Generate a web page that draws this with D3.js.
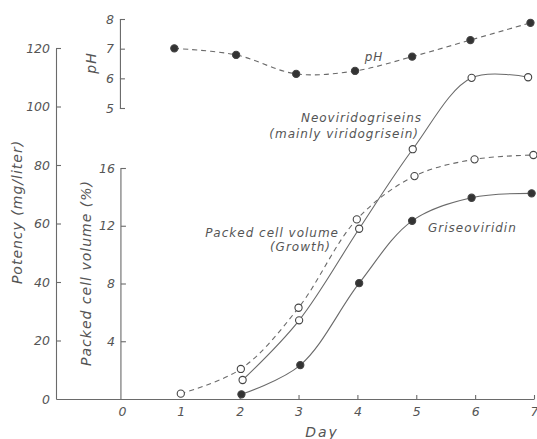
<!DOCTYPE html>
<html>
<head>
<meta charset="utf-8">
<script src="https://cdn.jsdelivr.net/npm/d3@7"></script>
<style>
  html, body { margin: 0; padding: 0; background: #fff; }
  svg { display: block; }
  text { font-family: "DejaVu Sans", sans-serif; font-style: italic; fill: #555; }
</style>
</head>
<body>
<svg id="chart" width="537" height="439"></svg>
<script>
// ---- data ----
const dayTicks = [0, 1, 2, 3, 4, 5, 6, 7];
const potencyTicks = [0, 20, 40, 60, 80, 100, 120];
const pcvTicks = [4, 8, 12, 16];
const phTicks = [5, 6, 7, 8];

const phDays = [0.89, 1.94, 2.96, 3.96, 4.93, 5.92, 6.94];
const phValues = [7.01, 6.79, 6.15, 6.25, 6.73, 7.29, 7.87];

const neoDays = [2.05, 3.01, 4.03, 4.94, 5.94, 6.9];
const neoValues = [6.5, 26.9, 58.2, 85.4, 109.8, 110.0];   // mg/liter

const griDays = [2.03, 3.03, 4.03, 4.93, 5.94, 6.96];
const griValues = [1.6, 11.6, 39.6, 60.9, 68.8, 70.3];     // mg/liter

const pcvDays = [1.0, 2.02, 3.0, 3.99, 4.97, 5.99, 6.99];
const pcvValues = [0.37, 2.08, 6.32, 12.44, 15.44, 16.6, 16.9]; // %

// ---- layout ----
const svg = d3.select("#chart");
const ink = "#555";
const lineInk = "#6a6a6a";

const x = d3.scaleLinear().domain([-1.12, 7]).range([56, 534]);
const yPot = d3.scaleLinear().domain([0, 120]).range([399, 48]);
const yPcv = d3.scaleLinear().domain([0, 16]).range([399, 168]);
const yPh = d3.scaleLinear().domain([5, 8]).range([108, 19]);
const intFmt = d3.format("d");

function styleAxis(g) {
  g.selectAll("path, line").attr("stroke", lineInk).attr("stroke-width", 1.1);
  g.selectAll("text").attr("fill", ink).style("font-size", "12.5px")
    .style("font-style", "italic").style("font-family", "DejaVu Sans, sans-serif");
}

// x axis
const gx = svg.append("g").attr("transform", `translate(0,${yPot(0)})`)
  .call(d3.axisBottom(x).tickValues(dayTicks).tickSizeInner(-4).tickSizeOuter(0).tickPadding(8).tickFormat(intFmt));
styleAxis(gx);
gx.selectAll(".tick line").filter(d => d < 2).attr("opacity", 0);

// potency axis
const gPot = svg.append("g").attr("transform", `translate(${x(-1.12)},0)`)
  .call(d3.axisLeft(yPot).tickValues(potencyTicks).tickSizeInner(-5).tickSizeOuter(0).tickPadding(6).tickFormat(intFmt));
styleAxis(gPot);
gPot.selectAll(".tick line").filter(d => d === 0).attr("opacity", 0);

// PCV axis
const gPcv = svg.append("g").attr("transform", `translate(${x(0) - 1},0)`)
  .call(d3.axisLeft(yPcv).tickValues(pcvTicks).tickSizeInner(-5).tickSizeOuter(0).tickPadding(6).tickFormat(intFmt));
styleAxis(gPcv);
gPcv.select("path.domain").attr("d", `M0,${yPcv(16)}V${yPcv(0)}`);

// pH axis
const gPh = svg.append("g").attr("transform", `translate(${x(0) - 2},0)`)
  .call(d3.axisLeft(yPh).tickValues(phTicks).tickSizeInner(-5).tickSizeOuter(-5).tickPadding(6).tickFormat(intFmt));
styleAxis(gPh);

// axis titles
svg.append("text").attr("transform", `translate(22,212) rotate(-90)`)
  .attr("text-anchor", "middle").style("font-size", "14px").style("letter-spacing", "1px")
  .text("Potency (mg/liter)");
svg.append("text").attr("transform", `translate(91,273) rotate(-90)`)
  .attr("text-anchor", "middle").style("font-size", "14px").style("letter-spacing", "1px")
  .text("Packed cell volume (%)");
svg.append("text").attr("transform", `translate(96,63) rotate(-90)`)
  .attr("text-anchor", "middle").style("font-size", "14px").style("letter-spacing", "1px")
  .text("pH");
svg.append("text").attr("x", x(3.4)).attr("y", 437)
  .attr("text-anchor", "middle").style("font-size", "14px").style("letter-spacing", "2px")
  .text("Day");

// ---- series ----
const curve = d3.curveCatmullRom.alpha(0.5);
function series(days, vals, yScale, dashed, filled) {
  const pts = days.map((d, i) => [x(d), yScale(vals[i])]);
  svg.append("path").attr("d", d3.line().curve(curve)(pts))
    .attr("fill", "none").attr("stroke", lineInk).attr("stroke-width", 1.1)
    .attr("stroke-dasharray", dashed ? "5,4" : null);
  svg.append("g").selectAll("circle").data(pts).join("circle")
    .attr("cx", p => p[0]).attr("cy", p => p[1]).attr("r", 3.6)
    .attr("fill", filled ? "#333" : "#fff")
    .attr("stroke", "#444").attr("stroke-width", 1.1);
}
series(phDays, phValues, yPh, true, true);
series(pcvDays, pcvValues, yPcv, true, false);
series(neoDays, neoValues, yPot, false, false);
series(griDays, griValues, yPot, false, true);

// ---- annotations ----
function label(txt, xx, yy, anchor) {
  svg.append("text").attr("x", xx).attr("y", yy).attr("text-anchor", anchor)
    .style("font-size", "12px").style("letter-spacing", "1px").text(txt);
}
label("pH", 374, 61, "middle");
label("Neoviridogriseins", 422, 122, "end");
label("(mainly viridogrisein)", 419, 138, "end");
label("Packed cell volume", 339, 237, "end");
label("(Growth)", 331, 251, "end");
label("Griseoviridin", 428, 232, "start");
</script>
</body>
</html>
